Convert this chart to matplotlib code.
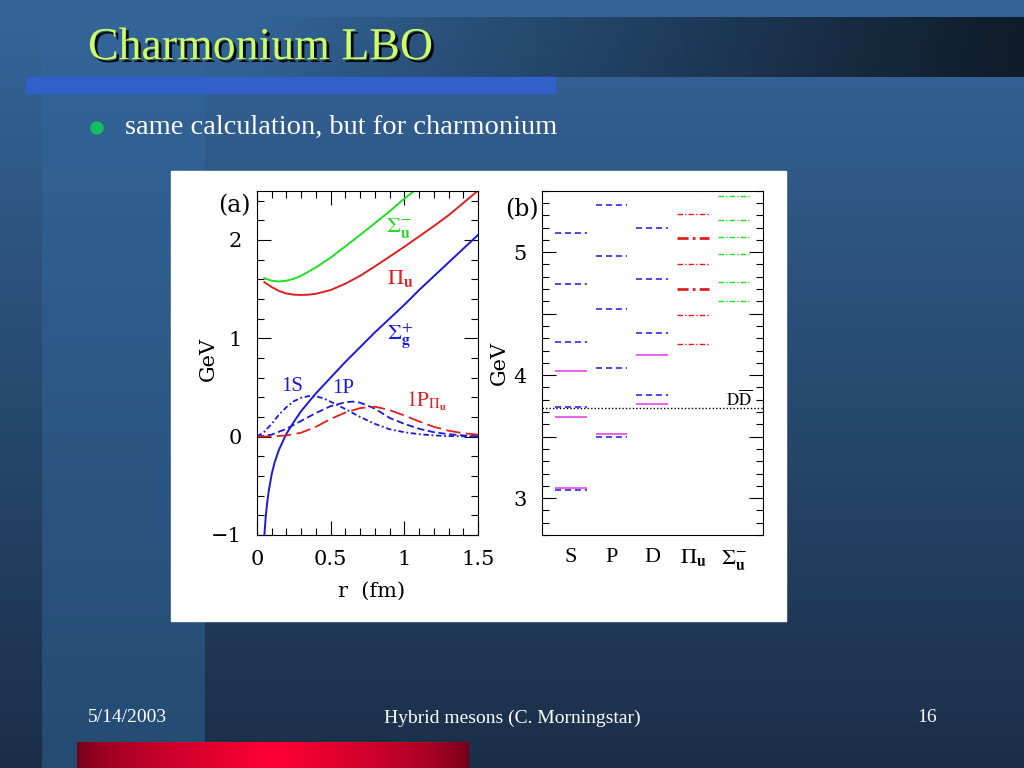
import numpy as np
import matplotlib
matplotlib.use('Agg')
import matplotlib.pyplot as plt
import matplotlib.patheffects as pe
from matplotlib.patches import Rectangle, Circle
from matplotlib.ticker import MultipleLocator

plt.rcParams['mathtext.fontset'] = 'stix'

# ---- panel (a): static potentials and radial wavefunctions ----
r_sigma_g = [0.05, 0.06, 0.07, 0.08, 0.10, 0.12, 0.15, 0.20, 0.25, 0.30, 0.40, 0.50,
             0.60, 0.70, 0.80, 0.90, 1.00, 1.10, 1.20, 1.30, 1.40, 1.50]
v_sigma_g = [-1.00, -0.80, -0.66, -0.55, -0.38, -0.26, -0.13, 0.03, 0.15, 0.26, 0.44, 0.60,
             0.76, 0.91, 1.06, 1.20, 1.34, 1.49, 1.63, 1.77, 1.91, 2.05]

r_pi_u = [0.05, 0.10, 0.15, 0.20, 0.25, 0.30, 0.35, 0.40, 0.50, 0.60, 0.70, 0.80, 0.90,
          1.00, 1.10, 1.20, 1.30, 1.40, 1.50]
v_pi_u = [1.57, 1.52, 1.48, 1.455, 1.443, 1.44, 1.443, 1.452, 1.49, 1.555, 1.635, 1.73, 1.83,
          1.93, 2.035, 2.14, 2.25, 2.375, 2.50]

r_sigma_u = [0.05, 0.10, 0.15, 0.20, 0.25, 0.30, 0.40, 0.50, 0.60, 0.70, 0.80, 0.90, 1.00, 1.07]
v_sigma_u = [1.61, 1.585, 1.577, 1.585, 1.605, 1.635, 1.72, 1.82, 1.935, 2.05, 2.17, 2.29, 2.42, 2.50]

r_1s = [0.0, 0.05, 0.10, 0.15, 0.20, 0.25, 0.30, 0.35, 0.40, 0.45, 0.50, 0.60, 0.70, 0.80,
        0.90, 1.00, 1.10, 1.20, 1.30, 1.50]
psi_1s = [0.0, 0.05, 0.13, 0.225, 0.30, 0.36, 0.395, 0.412, 0.41, 0.39, 0.355, 0.28, 0.20, 0.13,
          0.075, 0.045, 0.025, 0.012, 0.006, 0.0]

r_1p = [0.0, 0.10, 0.20, 0.30, 0.40, 0.50, 0.60, 0.65, 0.70, 0.80, 0.90, 1.00, 1.10, 1.20,
        1.30, 1.40, 1.50]
psi_1p = [0.0, 0.02, 0.08, 0.16, 0.24, 0.31, 0.35, 0.356, 0.345, 0.285, 0.19, 0.13, 0.08, 0.045,
          0.025, 0.012, 0.005]

r_1p_pi = [0.0, 0.10, 0.20, 0.30, 0.40, 0.50, 0.60, 0.70, 0.80, 0.90, 1.00, 1.10, 1.20, 1.30,
           1.40, 1.50]
psi_1p_pi = [0.0, 0.002, 0.012, 0.04, 0.10, 0.18, 0.245, 0.29, 0.305, 0.27, 0.215, 0.155, 0.10,
             0.06, 0.035, 0.02]

# ---- panel (b): charmonium spectrum (GeV) ----
categories = ['S', 'P', 'D', r'$\Pi_{\mathbf{u}}$', r'$\Sigma_{\mathbf{u}}^{-}$']
lattice_S = [3.07, 3.74, 4.27, 4.74, 5.16]
lattice_P = [3.50, 4.06, 4.54, 4.97, 5.38]
lattice_D = [3.84, 4.34, 4.78, 5.20]
exp_S = [3.08, 3.66, 4.035]
exp_P = [3.52]
exp_D = [3.765, 4.16]
hybrid_pi_u = [4.25, 4.49, 4.905, 5.31]
hybrid_pi_u_strong = [4.70, 5.115]
hybrid_sigma_u = [4.60, 4.76, 4.985, 5.12, 5.26, 5.46]
dd_threshold = 3.735

fig = plt.figure(figsize=(10.24, 7.68), dpi=100)

# slide background in pixel coordinates
bg = fig.add_axes([0, 0, 1, 1])
bg.set_xlim(0, 1024)
bg.set_ylim(768, 0)
bg.axis('off')

top_c = np.array([52, 102, 154]) / 255
bot_c = np.array([27, 46, 72]) / 255
strip_c = np.array([37, 75, 114]) / 255
t = np.linspace(0, 1, 768)[:, None, None]
bg.imshow(top_c * (1 - t) + bot_c * t, extent=(0, 1024, 768, 0), aspect='auto', zorder=0)
bg.imshow(top_c * (1 - t) + strip_c * t, extent=(42, 205, 768, 0), aspect='auto', zorder=0.5)

# dark title band
xs = np.linspace(0, 1024, 512)
band = np.zeros((1, 512, 4))
band[..., :3] = np.array([8, 14, 22]) / 255
band[..., 3] = np.clip((xs - 250) / 774, 0, 1) * 0.85
bg.imshow(band, extent=(0, 1024, 77, 17), aspect='auto', zorder=1)
bg.add_patch(Rectangle((26, 77), 529, 16, color='#3060c8', zorder=2))

# red footer bar
u = np.linspace(0, 1, 256)
k = np.clip(1 - np.abs(u - 0.5) / 0.5, 0, 1) ** 0.6
red = np.zeros((1, 256, 3))
red[..., 0] = (0x70 + (0xff - 0x70) * k) / 255
red[..., 2] = (0x18 + (0x33 - 0x18) * k) / 255
bg.imshow(red, extent=(77, 469, 768, 742), aspect='auto', zorder=2)

bg.add_patch(Circle((97, 128), 6, color='#10c060', zorder=3))
bg.add_patch(Rectangle((171, 171), 615, 450, color='white', zorder=3))

serif = 'Liberation Serif'
bg.text(88, 48, 'Charmonium LBO', fontsize=33, color='#ccff66', family=serif,
        va='center', ha='left', zorder=4,
        path_effects=[pe.withSimplePatchShadow(offset=(2, -2), shadow_rgbFace='black', alpha=0.9)])
bg.text(125, 127, 'same calculation, but for charmonium', fontsize=20.5, color='white',
        family=serif, va='center', ha='left', zorder=4)
bg.text(88, 718, '5/14/2003', fontsize=14, color='white', family=serif, va='center', ha='left')
bg.text(512, 718, 'Hybrid mesons (C. Morningstar)', fontsize=14, color='white', family=serif,
        va='center', ha='center')
bg.text(937, 718, '16', fontsize=14, color='white', family=serif, va='center', ha='right')

tickfont = 'DejaVu Serif'
blue = '#1a1ad8'
red_c = '#e02020'
green = '#22dd22'
magenta = '#ee44ee'

# ---- panel (a) ----
axa = fig.add_axes([257 / 1024, 233 / 768, 221 / 1024, 344.3 / 768])
axa.plot(r_sigma_g, v_sigma_g, color=blue, lw=1.4)
axa.plot(r_pi_u, v_pi_u, color=red_c, lw=1.4)
axa.plot(r_sigma_u, v_sigma_u, color=green, lw=1.4)
axa.plot(r_1s, psi_1s, color=blue, lw=1.3, dashes=(3, 1.5, 1, 1.5))
axa.plot(r_1p, psi_1p, color=blue, lw=1.3, dashes=(4, 2))
axa.plot(r_1p_pi, psi_1p_pi, color=red_c, lw=1.3, dashes=(8, 3))
axa.set_xlim(0, 1.5)
axa.set_ylim(-1, 2.5)
axa.set_xticks([0, 0.5, 1, 1.5])
axa.set_xticklabels(['0', '0.5', '1', '1.5'])
axa.set_yticks([-1, 0, 1, 2])
axa.xaxis.set_minor_locator(MultipleLocator(0.1))
axa.yaxis.set_minor_locator(MultipleLocator(0.2))
axa.tick_params(which='both', direction='in', top=True, right=True, width=0.8)
axa.tick_params(which='major', length=10, labelsize=15, pad=11)
axa.tick_params(which='minor', length=5)
for lab in axa.get_xticklabels() + axa.get_yticklabels():
    lab.set_family(tickfont)
axa.set_xlabel('r  (fm)', fontsize=15, family=tickfont)
axa.xaxis.set_label_coords(0.52, -0.135)
axa.set_ylabel('GeV', fontsize=15, family=tickfont)
axa.yaxis.set_label_coords(-0.175, 0.51)
axa.text(-0.03, 0.957, '(a)', transform=axa.transAxes, fontsize=17, family=tickfont,
         ha='right', va='center')

axa.text(0.96, 2.12, r'$\Sigma_{\mathbf{u}}^{-}$', color=green, fontsize=16, ha='center', va='center')
axa.text(0.97, 1.61, r'$\Pi_{\mathbf{u}}$', color=red_c, fontsize=16, ha='center', va='center')
axa.text(0.97, 1.03, r'$\Sigma_{\mathbf{g}}^{+}$', color=blue, fontsize=16, ha='center', va='center')
axa.text(0.235, 0.51, '1S', color=blue, fontsize=15, family=serif, ha='center', va='center')
axa.text(0.586, 0.49, '1P', color=blue, fontsize=15, family=serif, ha='center', va='center')
axa.text(1.01, 0.36, r'$\mathrm{1P}_{\Pi_{\mathbf{u}}}$', color=red_c, fontsize=15,
         ha='left', va='center')

# ---- panel (b) ----
axb = fig.add_axes([541.7 / 1024, 233 / 768, 221.6 / 1024, 344.3 / 768])
xpos = np.arange(1, len(categories) + 1)
hw = 0.39
axb.axhline(dd_threshold, color='black', lw=1.0, ls=(0, (1, 1.5)))
for x, lev in [(xpos[0], lattice_S), (xpos[1], lattice_P), (xpos[2], lattice_D)]:
    axb.hlines(lev, x - hw, x + hw, color=blue, lw=1.1, linestyles=[(0, (4, 2.5))])
for x, lev in [(xpos[0], exp_S), (xpos[1], exp_P), (xpos[2], exp_D)]:
    axb.hlines(lev, x - hw, x + hw, color=magenta, lw=1.2)
axb.hlines(hybrid_pi_u, xpos[3] - hw, xpos[3] + hw, color=red_c, lw=1.0,
           linestyles=[(0, (4, 1.5, 1, 1.5))])
axb.hlines(hybrid_pi_u_strong, xpos[3] - hw, xpos[3] + hw, color=red_c, lw=2.0,
           linestyles=[(0, (4, 1.5, 1, 1.5))])
axb.hlines(hybrid_sigma_u, xpos[4] - hw, xpos[4] + hw, color=green, lw=1.0,
           linestyles=[(0, (4, 1.5, 1, 1.5))])
axb.text(5.14, 3.80, r'$\mathrm{D\overline{D}}$', fontsize=12, ha='center', va='center')

axb.set_xlim(0.28, 5.73)
axb.set_ylim(2.7, 5.5)
axb.set_xticks(xpos)
axb.set_xticklabels(categories)
axb.set_yticks([3, 3.5, 4, 4.5, 5])
axb.set_yticklabels(['3', '', '4', '', '5'])
axb.yaxis.set_minor_locator(MultipleLocator(0.1))
axb.tick_params(axis='x', length=0, labelsize=16, pad=9)
axb.tick_params(axis='y', which='both', direction='in', right=True, width=0.8)
axb.tick_params(axis='y', which='major', length=10, labelsize=15, pad=11)
axb.tick_params(axis='y', which='minor', length=5)
for lab in axb.get_yticklabels():
    lab.set_family(tickfont)
for lab in axb.get_xticklabels()[:3]:
    lab.set_family(serif)
axb.set_ylabel('GeV', fontsize=15, family=tickfont)
axb.yaxis.set_label_coords(-0.15, 0.5)
axb.text(-0.015, 0.945, '(b)', transform=axb.transAxes, fontsize=17, family=tickfont,
         ha='right', va='center')

fig.savefig('out.png', dpi=100)
